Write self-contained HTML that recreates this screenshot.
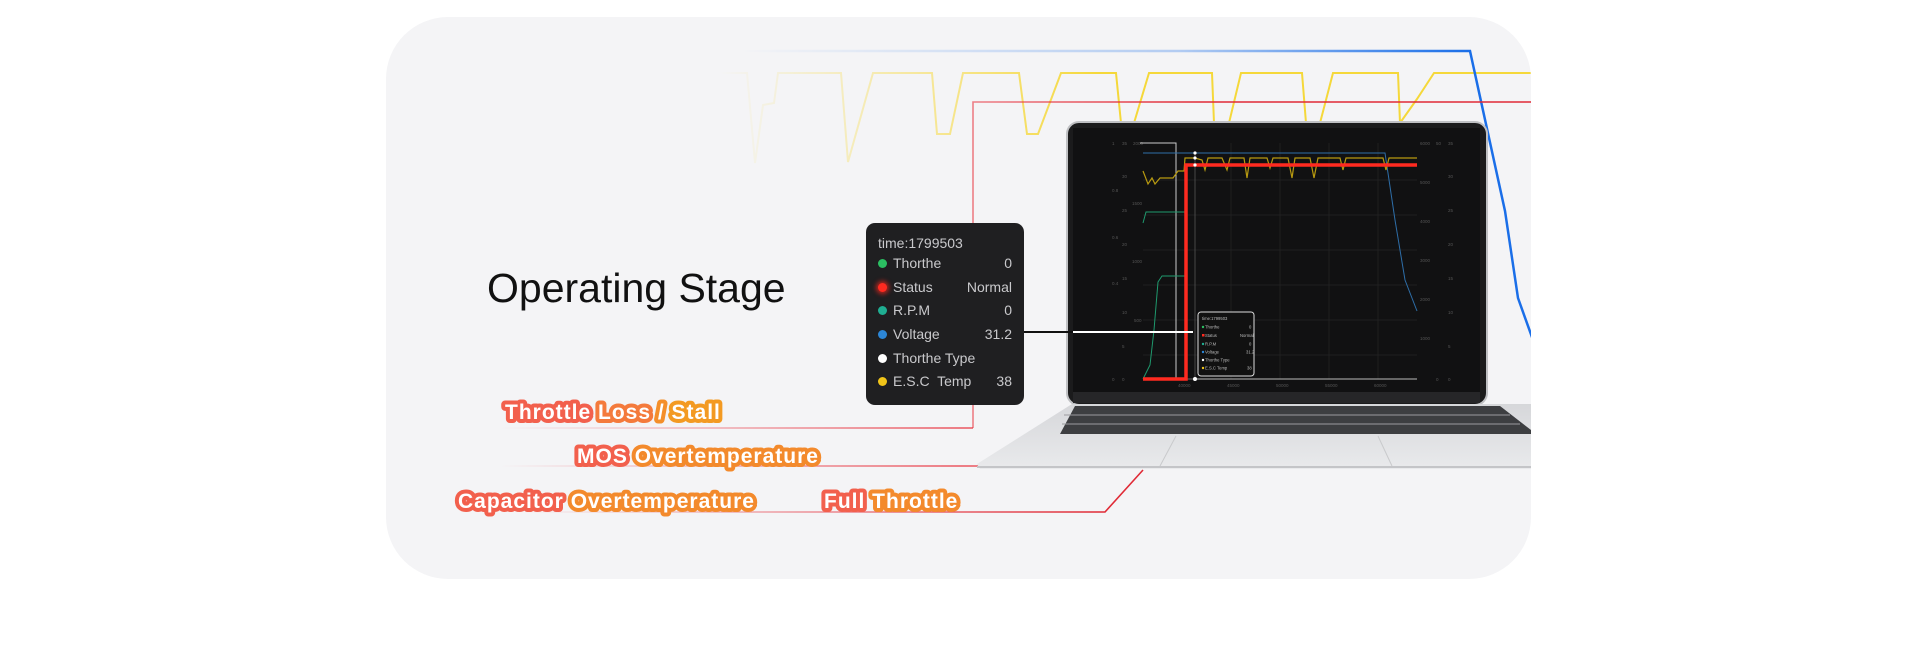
<!DOCTYPE html>
<html><head><meta charset="utf-8"><style>
html,body{margin:0;padding:0;background:#fff;}
body{width:1920px;height:667px;overflow:hidden;position:relative;font-family:"Liberation Sans",sans-serif;}
.card{position:absolute;left:386px;top:17px;width:1145px;height:562px;border-radius:62px;background:#f4f4f6;overflow:hidden;}
svg{position:absolute;left:0;top:0;}
.tip{position:absolute;left:866px;top:223px;width:158px;height:182px;background:#1f1f21;border-radius:9px;color:#c9c9cc;font-size:14px;}
.tip .r{position:absolute;left:12px;right:12px;height:18px;}
.tip .d{position:absolute;left:0;top:4px;width:9px;height:9px;border-radius:50%;}
.tip .n{position:absolute;left:15px;top:0;}
.tip .v{position:absolute;right:0;top:0;}
</style></head><body>
<div class="card"></div>
<svg width="1920" height="667" viewBox="0 0 1920 667">
<defs>
<clipPath id="cc"><rect x="386" y="17" width="1145" height="562" rx="62"/></clipPath>
<linearGradient id="yg" gradientUnits="userSpaceOnUse" x1="720" y1="0" x2="1100" y2="0"><stop offset="0" stop-color="#f7dc4c" stop-opacity="0"/><stop offset="0.5" stop-color="#f7dc4c" stop-opacity="0.5"/><stop offset="1" stop-color="#f5d83a"/></linearGradient>
<linearGradient id="bg" gradientUnits="userSpaceOnUse" x1="740" y1="0" x2="1470" y2="0"><stop offset="0" stop-color="#1a6ee8" stop-opacity="0"/><stop offset="0.6" stop-color="#1a6ee8" stop-opacity="0.3"/><stop offset="1" stop-color="#1a6ee8"/></linearGradient>
<linearGradient id="rg" gradientUnits="userSpaceOnUse" x1="973" y1="0" x2="1200" y2="0"><stop offset="0" stop-color="#e8303c" stop-opacity="0.6"/><stop offset="1" stop-color="#e02a36"/></linearGradient>
<linearGradient id="rg2" gradientUnits="userSpaceOnUse" x1="500" y1="0" x2="960" y2="0"><stop offset="0" stop-color="#e8303c" stop-opacity="0"/><stop offset="1" stop-color="#e8303c" stop-opacity="0.8"/></linearGradient>
<linearGradient id="rg3" gradientUnits="userSpaceOnUse" x1="520" y1="0" x2="1100" y2="0"><stop offset="0" stop-color="#e8303c" stop-opacity="0"/><stop offset="1" stop-color="#e02a36"/></linearGradient>
<linearGradient id="base" x1="0" y1="0" x2="0" y2="1"><stop offset="0" stop-color="#d6d7da"/><stop offset="1" stop-color="#e9eaec"/></linearGradient>
</defs>
<g clip-path="url(#cc)">
<polyline fill="none" stroke="url(#yg)" stroke-width="2" points="686,73 747,73 755,163 763,105 774,103 778,73 841,73 848,162 873,73 932,73 937,134 950,134 963,73 1019,73 1027,134 1038,134 1061,73 1116,73 1121,123 1134,123 1149,73 1212,73 1214,123 1229,123 1241,73 1302,73 1306,123 1320,123 1333,73 1398,73 1400,123 1417,99 1434,73 1540,73"/>
<polyline fill="none" stroke="url(#bg)" stroke-width="2.5" points="745,51 1470,51 1505,211 1518,298 1533,340"/>
<polyline fill="none" stroke="url(#rg)" stroke-width="1.6" points="1540,102 973,102 973,428"/>
<line x1="500" y1="428" x2="973" y2="428" stroke="url(#rg2)" stroke-width="1.6"/>
<line x1="500" y1="466" x2="985" y2="466" stroke="url(#rg2)" stroke-width="1.6"/>
<polyline fill="none" stroke="url(#rg3)" stroke-width="1.6" points="520,512 1105,512 1143,470"/>
<rect x="1067" y="122" width="420" height="283" rx="12" fill="#1b1b1c" stroke="#bfc0c3" stroke-width="2"/>
<rect x="1073" y="128" width="407" height="264" fill="#111112"/>
<rect x="1073" y="392" width="407" height="11" fill="#262628"/>
<polygon points="1072,404 1531,404 1531,469 980,469 977,464" fill="url(#base)"/>
<polygon points="1075,406 1500,406 1531,430 1531,434 1060,434" fill="#3d3e41"/>
<g stroke="#9a9b9e" stroke-width="1">
<line x1="1064" y1="415" x2="1510" y2="415"/><line x1="1062" y1="424" x2="1520" y2="424"/>
</g>
<line x1="977" y1="467" x2="1531" y2="467" stroke="#c4c5c8" stroke-width="2"/>
<line x1="1176" y1="436" x2="1160" y2="466" stroke="#c9cacc"/><line x1="1378" y1="436" x2="1392" y2="466" stroke="#c9cacc"/>
<g stroke="#242426" stroke-width="0.7">
<line x1="1143" y1="180" x2="1417" y2="180"/><line x1="1143" y1="215" x2="1417" y2="215"/><line x1="1143" y1="250" x2="1417" y2="250"/><line x1="1143" y1="285" x2="1417" y2="285"/><line x1="1143" y1="320" x2="1417" y2="320"/><line x1="1143" y1="355" x2="1417" y2="355"/>
<line x1="1231" y1="143" x2="1231" y2="379"/><line x1="1280" y1="143" x2="1280" y2="379"/><line x1="1329" y1="143" x2="1329" y2="379"/><line x1="1378" y1="143" x2="1378" y2="379"/>
</g>
<g fill="#555" font-size="4.5" font-family="Liberation Sans">
<text x="1112" y="145">1</text><text x="1122" y="145">35</text><text x="1133" y="145">2000</text>
<text x="1112" y="192">0.8</text><text x="1122" y="178">30</text><text x="1132" y="205">1500</text>
<text x="1112" y="239">0.6</text><text x="1122" y="212">25</text><text x="1132" y="263">1000</text>
<text x="1112" y="285">0.4</text><text x="1122" y="246">20</text><text x="1134" y="322">500</text>
<text x="1122" y="280">15</text><text x="1122" y="314">10</text><text x="1122" y="348">5</text>
<text x="1112" y="381">0</text><text x="1122" y="381">0</text>
<text x="1178" y="387">40000</text><text x="1227" y="387">45000</text><text x="1276" y="387">50000</text><text x="1325" y="387">55000</text><text x="1374" y="387">60000</text>
<text x="1420" y="145">6000</text><text x="1436" y="145">50</text><text x="1448" y="145">35</text>
<text x="1420" y="184">5000</text><text x="1420" y="223">4000</text><text x="1420" y="262">3000</text><text x="1420" y="301">2000</text><text x="1420" y="340">1000</text>
<text x="1448" y="178">30</text><text x="1448" y="212">25</text><text x="1448" y="246">20</text><text x="1448" y="280">15</text><text x="1448" y="314">10</text><text x="1448" y="348">5</text><text x="1448" y="381">0</text><text x="1436" y="381">0</text>
</g>
<line x1="1143" y1="379" x2="1417" y2="379" stroke="#666" stroke-width="1"/>
<polyline fill="none" stroke="#ccc" stroke-width="1" points="1140,143 1176,143 1176,379"/>
<line x1="1195" y1="152" x2="1195" y2="379" stroke="#555" stroke-width="0.8"/>
<polyline fill="none" stroke="#2e6ea8" stroke-width="1" points="1143,153 1385,153 1395,220 1405,280 1417,311"/>
<polyline fill="none" stroke="#b89a10" stroke-width="1.2" points="1143,171 1148,184 1152,178 1155,184 1160,178 1173,178 1178,171 1184,171 1185,158 1195,158 1202,160 1205,170 1208,158 1222,158 1227,170 1230,158 1244,158 1247,178 1250,158 1267,158 1270,168 1273,158 1288,158 1292,178 1295,158 1310,158 1314,178 1318,158 1340,158 1343,170 1346,158 1383,158 1386,170 1389,158 1417,158"/>
<polyline fill="none" stroke="#1f9a6e" stroke-width="1" points="1143,223 1146,212 1185,212"/>
<polyline fill="none" stroke="#1f9a6e" stroke-width="1" points="1143,379 1150,365 1154,330 1158,282 1162,276 1185,276"/>
<polyline fill="none" stroke="#ff2a20" stroke-width="3.5" points="1143,379 1186,379 1186,165 1417,165"/>
<line x1="1195" y1="379" x2="1417" y2="379" stroke="#bbb" stroke-width="1"/>
<circle cx="1195" cy="379" r="2" fill="#fff"/><circle cx="1195" cy="153" r="1.6" fill="#fff"/><circle cx="1195" cy="158" r="1.6" fill="#fff"/><circle cx="1195" cy="165" r="1.6" fill="#fff"/>
<rect x="1198" y="312" width="56" height="64" rx="3" fill="#111" stroke="#ddd" stroke-width="1"/>
<g font-size="4.2" fill="#bbb" font-family="Liberation Sans">
<text x="1202" y="320">time:1799503</text>
<circle cx="1203" cy="327" r="1.2" fill="#2bbf62"/><text x="1205" y="328.5">Thorthe</text><text x="1249" y="328.5">0</text>
<rect x="1202" y="334" width="2.5" height="2.5" fill="#ff2a20"/><text x="1205" y="337">Status</text><text x="1240" y="337">Normal</text>
<circle cx="1203" cy="344" r="1.2" fill="#1fae92"/><text x="1205" y="345.5">R.P.M</text><text x="1249" y="345.5">0</text>
<circle cx="1203" cy="352" r="1.2" fill="#2c86d6"/><text x="1205" y="353.5">Voltage</text><text x="1246" y="353.5">31.2</text>
<circle cx="1203" cy="360" r="1.2" fill="#fff"/><text x="1205" y="361.5">Thorthe Type</text>
<circle cx="1203" cy="368" r="1.2" fill="#f0c419"/><text x="1205" y="369.5">E.S.C Temp</text><text x="1247" y="369.5">38</text>
</g>
<line x1="1024" y1="332" x2="1073" y2="332" stroke="#111" stroke-width="2"/>
<line x1="1073" y1="332" x2="1193" y2="332" stroke="#fff" stroke-width="2"/>
</g>
<text x="487" y="302" font-family="Liberation Sans" font-size="41" fill="#111">Operating Stage</text>
<g font-family="Liberation Sans" font-weight="bold" font-size="21" fill="#fff" stroke-width="8" stroke-linejoin="round" paint-order="stroke" letter-spacing="1">
<text x="505" y="419"><tspan stroke="#f2604d">Throttle</tspan> <tspan stroke="#f47a3c">Loss</tspan> <tspan stroke="#f48f2a">/</tspan> <tspan stroke="#f39a22">Stall</tspan></text>
<text x="577" y="463"><tspan stroke="#f2604d">MOS</tspan> <tspan stroke="#f38a2c">Overtemperature</tspan></text>
<text x="458" y="508"><tspan stroke="#f2604d">Capacitor</tspan> <tspan stroke="#f38a2c">Overtemperature</tspan></text>
<text x="824" y="508"><tspan stroke="#f2604d">Full</tspan> <tspan stroke="#f38a2c">Throttle</tspan></text>
</g>
</svg>
<div class="tip">
<div style="position:absolute;left:12px;top:12px;">time:1799503</div>
<div class="r" style="top:32px"><div class="d" style="background:#2bbf62"></div><div class="n">Thorthe</div><div class="v">0</div></div>
<div class="r" style="top:56px"><div class="d" style="background:#ff2a20;box-shadow:0 0 5px 2px rgba(255,40,30,.7)"></div><div class="n">Status</div><div class="v">Normal</div></div>
<div class="r" style="top:79px"><div class="d" style="background:#1fae92"></div><div class="n">R.P.M</div><div class="v">0</div></div>
<div class="r" style="top:103px"><div class="d" style="background:#2c86d6"></div><div class="n">Voltage</div><div class="v">31.2</div></div>
<div class="r" style="top:127px"><div class="d" style="background:#fff"></div><div class="n">Thorthe Type</div></div>
<div class="r" style="top:150px"><div class="d" style="background:#f0c419"></div><div class="n">E.S.C&nbsp; Temp</div><div class="v">38</div></div>
</div>
</body></html>
